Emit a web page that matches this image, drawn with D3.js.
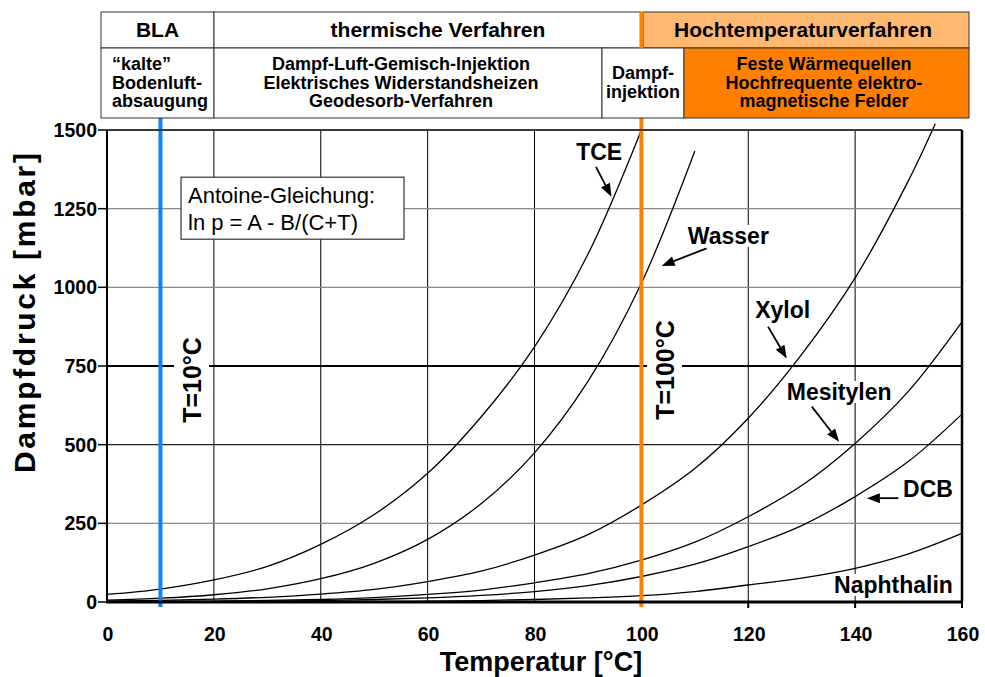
<!DOCTYPE html>
<html><head><meta charset="utf-8">
<script src="https://cdn.jsdelivr.net/npm/d3@7"></script>
<style>
html,body{margin:0;background:#fff}
svg{display:block}
text{font-family:"Liberation Sans",Arial,Helvetica,sans-serif}
</style>
</head><body>
<svg id="chart" width="985" height="677"></svg>
<script>
// Vapour pressure (mbar) of several compounds against temperature (°C)
const temps = [0,10,20,30,40,50,60,70,80,90,100,110,120,130,140,150,160];
const tceP = [24,41,70,113,183,278,409,588,811,1105,1500];
const wasserP = [6,12,23,42,74,123,199,312,474,701,1013,1433];
const xylolT = [0,10,20,30,40,50,60,70,80,90,100,110,120,130,140,150,155];
const xylolP = [3,5,9,15,25,40,65,98,149,214,308,424,584,787,1030,1340,1520];
const mesitylenP = [1,2,3,5,8,14,24,38,61,90,133,190,271,370,504,670,890];
const dcbP = [0.5,0.8,1.5,2.5,4.5,8,13,21,33,52,81,120,176,243,335,447,597];
const naphthalinP = [0.1,0.2,0.3,0.5,0.9,1.6,2.7,4.6,8,13,20,33,54,76,107,153,218];

const xTicks = [0,20,40,60,80,100,120,140,160];
const yTicks = [0,250,500,750,1000,1250,1500];

// Curve labels: text, label anchor (T, p), arrow from/to (T, p)
const curveLabels = [
  {name:"TCE",        at:[87.8,1405], anchor:"start", arrow:[[91.5,1383],[94.4,1288]]},
  {name:"Wasser",     at:[108.7,1138], anchor:"start", arrow:[[112.2,1124],[103.8,1068]]},
  {name:"Xylol",      at:[121.3,903], anchor:"start", arrow:[[123.7,875],[127.2,774]]},
  {name:"Mesitylen",  at:[127.2,642], anchor:"start", arrow:[[131.9,621],[137.0,509]]},
  {name:"DCB",        at:[158.3,334], anchor:"end",   arrow:[[148.1,330],[142.2,330]]},
  {name:"Naphthalin", at:[158.3,29],  anchor:"end",   arrow:null}
];

const series = [
  {name:"TCE", t:temps.slice(0,tceP.length), p:tceP},
  {name:"Wasser", t:temps.slice(0,wasserP.length), p:wasserP},
  {name:"Xylol", t:xylolT, p:xylolP},
  {name:"Mesitylen", t:temps, p:mesitylenP},
  {name:"DCB", t:temps, p:dcbP},
  {name:"Naphthalin", t:temps, p:naphthalinP}
];

const svg = d3.select("#chart");
const x = d3.scaleLinear().domain([0,160]).range([107,962]);
const y = d3.scaleLinear().domain([0,1500]).range([602,130]);

// grid
const grid = svg.append("g");
grid.selectAll("line.v").data(xTicks.filter(t=>t>0&&t<160)).join("line")
  .attr("x1",d=>x(d)).attr("x2",d=>x(d)).attr("y1",y(1500)).attr("y2",y(0))
  .attr("stroke","#000").attr("stroke-width",1);
grid.selectAll("line.h").data(yTicks.filter(v=>v>0&&v<1500)).join("line")
  .attr("x1",x(0)).attr("x2",x(160)).attr("y1",d=>y(d)).attr("y2",d=>y(d))
  .attr("stroke",d=>d===750?"#000":(d===500?"#222":"#8a8a8a"))
  .attr("stroke-width",d=>d===750?2:1.3);

// curves
const line = d3.line().x(d=>x(d[0])).y(d=>y(d[1])).curve(d3.curveCatmullRom.alpha(0.5));
svg.append("g").selectAll("path").data(series).join("path")
  .attr("d",s=>line(s.t.map((t,i)=>[t,s.p[i]])))
  .attr("fill","none").attr("stroke","#000").attr("stroke-width",1.3);

// reference temperature lines
svg.append("line").attr("x1",x(10)).attr("x2",x(10)).attr("y1",118).attr("y2",607)
  .attr("stroke","#0a84ff").attr("stroke-width",4);
svg.append("line").attr("x1",x(100)).attr("x2",x(100)).attr("y1",12).attr("y2",607)
  .attr("stroke","#ff8000").attr("stroke-width",4);

// axes frame
svg.append("line").attr("x1",x(0)).attr("x2",x(160)).attr("y1",y(1500)).attr("y2",y(1500))
  .attr("stroke","#3a3a2a").attr("stroke-width",2);
svg.append("line").attr("x1",x(160)).attr("x2",x(160)).attr("y1",y(1500)).attr("y2",y(0))
  .attr("stroke","#000").attr("stroke-width",2.5);
svg.append("line").attr("x1",x(0)).attr("x2",x(0)).attr("y1",y(1500)).attr("y2",y(0)+1)
  .attr("stroke","#000").attr("stroke-width",2);
svg.append("line").attr("x1",x(0)-1).attr("x2",x(160)+1).attr("y1",y(0)).attr("y2",y(0))
  .attr("stroke","#000").attr("stroke-width",3);

// y axis ticks and labels
const ya = svg.append("g");
ya.selectAll("line").data(yTicks).join("line")
  .attr("x1",x(0)-9).attr("x2",x(0)).attr("y1",d=>y(d)).attr("y2",d=>y(d))
  .attr("stroke","#000").attr("stroke-width",1.5);
ya.selectAll("text").data(yTicks).join("text")
  .attr("x",x(0)-10).attr("y",d=>y(d)).attr("dy","0.36em")
  .attr("text-anchor","end").attr("font-size",19.5).attr("font-weight","bold")
  .text(d=>d);

// x axis ticks and labels
const xa = svg.append("g");
xa.selectAll("line").data(xTicks.filter(t=>t>100)).join("line")
  .attr("x1",d=>x(d)).attr("x2",d=>x(d)).attr("y1",y(0)).attr("y2",y(0)+6)
  .attr("stroke","#000").attr("stroke-width",2);
xa.selectAll("text").data(xTicks).join("text")
  .attr("x",d=>x(d)+1).attr("y",641).attr("text-anchor","middle")
  .attr("font-size",19.5).attr("font-weight","bold").text(d=>d);

// axis titles
svg.append("text").attr("x",541).attr("y",671).attr("text-anchor","middle")
  .attr("font-size",27).attr("font-weight","bold").text("Temperatur [°C]");
svg.append("text").attr("transform","translate(35,313) rotate(-90)")
  .attr("text-anchor","middle").attr("font-size",30).attr("font-weight","bold")
  .attr("textLength",320).attr("lengthAdjust","spacing")
  .text("Dampfdruck [mbar]");

// helper: text with white background that hides grid lines behind it
function labelWithBg(g, txt, pad){
  const b = txt.node().getBBox();
  g.insert("rect", () => txt.node())
    .attr("x",b.x-pad).attr("y",b.y+2).attr("width",b.width+2*pad).attr("height",b.height-4)
    .attr("fill","#fff");
}

// curve labels and arrows
const lab = svg.append("g");
curveLabels.forEach(c=>{
  const g = lab.append("g");
  const t = g.append("text").attr("x",x(c.at[0])).attr("y",y(c.at[1]))
    .attr("text-anchor",c.anchor).attr("font-size",23).attr("font-weight","bold").text(c.name);
  labelWithBg(g,t,2);
  if(c.arrow){
    const [p0,p1] = c.arrow;
    const x0=x(p0[0]), y0=y(p0[1]), x1=x(p1[0]), y1=y(p1[1]);
    const ang = Math.atan2(y1-y0,x1-x0), L=13, W=5;
    const bx = x1-L*Math.cos(ang), by = y1-L*Math.sin(ang);
    g.append("line").attr("x1",x0).attr("y1",y0).attr("x2",bx).attr("y2",by)
      .attr("stroke","#000").attr("stroke-width",1.8);
    g.append("path").attr("d",`M${x1},${y1}L${bx+W*Math.sin(ang)},${by-W*Math.cos(ang)}L${bx-W*Math.sin(ang)},${by+W*Math.cos(ang)}Z`)
      .attr("fill","#000");
  }
});

// temperature markers
[[10,192,380],[100,665,370]].forEach(([t,cx,cy])=>{
  const g = svg.append("g");
  g.append("rect").attr("x",cx-18).attr("y",cy-50).attr("width",35).attr("height",100).attr("fill","#fff");
  g.append("text").attr("transform",`translate(${cx},${cy}) rotate(-90)`)
    .attr("text-anchor","middle").attr("dy","0.36em").attr("font-size",25).attr("font-weight","bold")
    .text(`T=${t}°C`);
});

// Antoine box
const ab = svg.append("g");
ab.append("rect").attr("x",x(13.85)).attr("y",y(1350)).attr("width",223).attr("height",62)
  .attr("fill","#fff").attr("stroke","#333").attr("stroke-width",1.2);
ab.append("text").attr("x",x(13.85)+7).attr("y",y(1350)+26).attr("font-size",22).text("Antoine-Gleichung:");
ab.append("text").attr("x",x(13.85)+7).attr("y",y(1350)+53).attr("font-size",22).text("ln p = A - B/(C+T)");

// header table
const head = svg.append("g");
const row1 = [
  {x0:101, x1:214, fill:"#fff", lines:["BLA"]},
  {x0:214, x1:641, fill:"#fff", lines:["thermische Verfahren"], cx:438},
  {x0:643, x1:969, fill:"#ffb870", lines:["Hochtemperaturverfahren"], cx:803}
];
const row2 = [
  {x0:101, x1:214, fill:"#fff", lines:["“kalte”","Bodenluft-","absaugung"], left:112},
  {x0:214, x1:602, fill:"#fff", lines:["Dampf-Luft-Gemisch-Injektion","Elektrisches Widerstandsheizen","Geodesorb-Verfahren"], cx:401},
  {x0:602, x1:684, fill:"#fff", lines:["Dampf-","injektion"]},
  {x0:684, x1:969, fill:"#ff8000", lines:["Feste Wärmequellen","Hochfrequente elektro-","magnetische Felder"], cx:824}
];
row1.forEach(c=>{
  head.append("rect").attr("x",c.x0).attr("y",12).attr("width",c.x1-c.x0).attr("height",36)
    .attr("fill",c.fill).attr("stroke","#333").attr("stroke-width",1);
  head.append("text").attr("x",c.cx||(c.x0+c.x1)/2).attr("y",37).attr("text-anchor","middle")
    .attr("font-size",21).attr("font-weight","bold").text(c.lines[0]);
});
// T=100 line passes through the first header row
svg.append("line").attr("x1",x(100)).attr("x2",x(100)).attr("y1",12).attr("y2",48)
  .attr("stroke","#ff8000").attr("stroke-width",4);
row2.forEach(c=>{
  head.append("rect").attr("x",c.x0).attr("y",48).attr("width",c.x1-c.x0).attr("height",70)
    .attr("fill",c.fill).attr("stroke","#333").attr("stroke-width",1);
  const n = c.lines.length, lh = 18.5;
  const base = 83 - (n-1)*lh/2 + 5.5;
  c.lines.forEach((s,i)=>{
    head.append("text")
      .attr("x",c.left!==undefined?c.left:(c.cx||(c.x0+c.x1)/2))
      .attr("y",base+i*lh)
      .attr("text-anchor",c.left!==undefined?"start":"middle")
      .attr("font-size",18).attr("font-weight","bold").text(s);
  });
});
</script>
</body></html>
